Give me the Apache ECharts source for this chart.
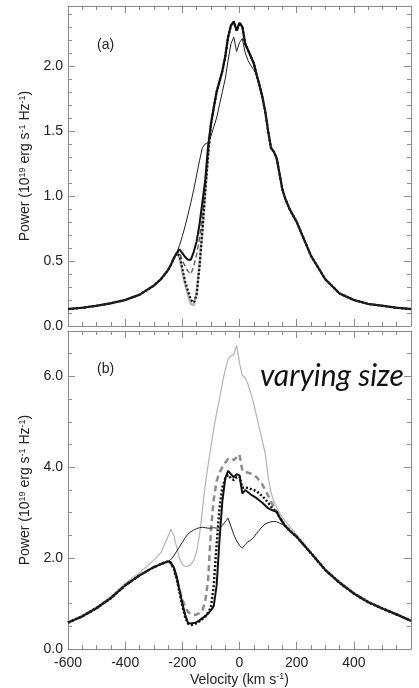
<!DOCTYPE html>
<html>
<head>
<meta charset="utf-8">
<script src="https://cdn.jsdelivr.net/npm/echarts@6/dist/echarts.min.js"></script>
<style>
html, body { margin: 0; padding: 0; background: #fff; }
#main { width: 419px; height: 688px; }
</style>
</head>
<body>
<div id="main"></div>
<script>
// velocity grid (km/s), shared by every curve
var vel = [-600, -550, -500, -450, -400, -350, -300, -275,
  -250, -240, -230, -220, -210, -200, -190, -180, -170, -160, -150, -140, -130, -120, -110, -100,
  -90, -80, -70, -60, -50, -40, -30, -20, -10, 0, 10, 20, 30, 40, 50,
  60, 70, 80, 90, 100, 110, 120, 130, 140, 150, 160,
  175, 200, 225, 250, 300, 350, 400, 450, 500, 550, 600];

// panel (a)
var aThin = [0.13, 0.14, 0.155, 0.175, 0.20, 0.24, 0.31, 0.36,
  0.43, 0.47, 0.51, 0.56, 0.62, 0.69, 0.77, 0.86, 0.95, 1.05, 1.16, 1.27, 1.37, 1.40, 1.41, 1.46,
  1.53, 1.60, 1.70, 1.80, 1.90, 2.04, 2.17, 2.22, 2.11, 2.18, 2.21, 2.10, 2.04, 2.00, 1.97,
  1.93, 1.85, 1.76, 1.65, 1.50, 1.37, 1.34, 1.29, 1.17, 1.05, 0.98,
  0.90, 0.80, 0.67, 0.54, 0.36, 0.25, 0.20, 0.17, 0.155, 0.14, 0.13];
var aThick = [0.13, 0.14, 0.155, 0.175, 0.20, 0.24, 0.31, 0.36,
  0.43, 0.47, 0.52, 0.56, 0.59, 0.56, 0.53, 0.51, 0.51, 0.57, 0.65, 0.78, 0.95, 1.12, 1.38, 1.55,
  1.68, 1.80, 1.88, 1.96, 2.07, 2.22, 2.31, 2.34, 2.27, 2.33, 2.30, 2.17, 2.12, 2.07, 2.02,
  1.93, 1.85, 1.76, 1.65, 1.50, 1.37, 1.34, 1.29, 1.17, 1.05, 0.98,
  0.90, 0.80, 0.67, 0.54, 0.36, 0.25, 0.20, 0.17, 0.155, 0.14, 0.13];
var aDash = [0.13, 0.14, 0.155, 0.175, 0.20, 0.24, 0.31, 0.36,
  0.43, 0.47, 0.52, 0.56, 0.57, 0.50, 0.46, 0.42, 0.40, 0.46, 0.55, 0.67, 0.85, 1.07, 1.34, 1.55,
  1.68, 1.80, 1.88, 1.96, 2.07, 2.22, 2.31, 2.34, 2.27, 2.33, 2.30, 2.17, 2.12, 2.07, 2.02,
  1.93, 1.85, 1.76, 1.65, 1.50, 1.37, 1.34, 1.29, 1.17, 1.05, 0.98,
  0.90, 0.80, 0.67, 0.54, 0.36, 0.25, 0.20, 0.17, 0.155, 0.14, 0.13];
var aDot = [0.13, 0.14, 0.155, 0.175, 0.20, 0.24, 0.31, 0.36,
  0.43, 0.47, 0.52, 0.56, 0.54, 0.44, 0.34, 0.27, 0.20, 0.18, 0.24, 0.45, 0.72, 1.02, 1.30, 1.55,
  1.68, 1.80, 1.88, 1.96, 2.07, 2.22, 2.31, 2.34, 2.27, 2.33, 2.30, 2.17, 2.12, 2.07, 2.02,
  1.93, 1.85, 1.76, 1.65, 1.50, 1.37, 1.34, 1.29, 1.17, 1.05, 0.98,
  0.90, 0.80, 0.67, 0.54, 0.36, 0.25, 0.20, 0.17, 0.155, 0.14, 0.13];
var aGray = [0.13, 0.14, 0.155, 0.175, 0.20, 0.24, 0.31, 0.36,
  0.43, 0.47, 0.52, 0.56, 0.53, 0.42, 0.32, 0.24, 0.17, 0.16, 0.25, 0.48, 0.75, 1.04, 1.32, 1.55,
  1.68, 1.80, 1.88, 1.96, 2.07, 2.22, 2.31, 2.34, 2.27, 2.33, 2.30, 2.17, 2.12, 2.07, 2.02,
  1.93, 1.85, 1.76, 1.65, 1.50, 1.37, 1.34, 1.29, 1.17, 1.05, 0.98,
  0.90, 0.80, 0.67, 0.54, 0.36, 0.25, 0.20, 0.17, 0.155, 0.14, 0.13];

// panel (b)
var bGray = [0.60, 0.74, 0.93, 1.16, 1.45, 1.68, 1.95, 2.12,
  2.48, 2.64, 2.50, 2.25, 2.00, 1.86, 1.82, 1.82, 1.86, 1.95, 2.15, 2.50, 3.05, 3.60, 4.05, 4.45,
  4.85, 5.20, 5.50, 5.85, 6.15, 6.38, 6.45, 6.48, 6.68, 6.30, 6.02, 5.97, 5.82, 5.62, 5.40,
  5.12, 4.84, 4.58, 4.30, 3.80, 3.45, 3.25, 3.12, 3.00, 2.90, 2.82,
  2.70, 2.52, 2.33, 2.14, 1.77, 1.49, 1.25, 1.06, 0.91, 0.78, 0.64];
var bThin = [0.58, 0.72, 0.90, 1.12, 1.40, 1.62, 1.80, 1.87,
  1.93, 1.97, 2.05, 2.15, 2.25, 2.35, 2.45, 2.53, 2.58, 2.62, 2.65, 2.67, 2.68, 2.67, 2.66, 2.66,
  2.67, 2.66, 2.67, 2.72, 2.80, 2.88, 2.70, 2.52, 2.38, 2.28, 2.22, 2.30, 2.36, 2.40, 2.46,
  2.55, 2.62, 2.70, 2.75, 2.78, 2.80, 2.81, 2.80, 2.77, 2.74, 2.68,
  2.61, 2.47, 2.29, 2.11, 1.74, 1.46, 1.22, 1.03, 0.89, 0.76, 0.62];
var bThick = [0.58, 0.72, 0.90, 1.12, 1.40, 1.62, 1.80, 1.87,
  1.93, 1.90, 1.80, 1.60, 1.30, 1.00, 0.75, 0.57, 0.56, 0.57, 0.59, 0.63, 0.68, 0.72, 0.78, 0.85,
  0.95, 1.40, 2.40, 3.25, 3.75, 3.92, 3.85, 3.78, 3.85, 3.82, 3.42, 3.50, 3.45, 3.40, 3.36,
  3.32, 3.27, 3.22, 3.16, 3.10, 3.07, 3.04, 3.02, 2.90, 2.80, 2.71,
  2.61, 2.47, 2.29, 2.11, 1.74, 1.46, 1.22, 1.03, 0.89, 0.76, 0.62];
var bDot = [0.58, 0.72, 0.90, 1.12, 1.40, 1.62, 1.80, 1.87,
  1.93, 1.90, 1.78, 1.55, 1.25, 0.95, 0.70, 0.56, 0.53, 0.54, 0.57, 0.61, 0.66, 0.72, 0.80, 0.92,
  1.40, 2.30, 3.10, 3.55, 3.75, 3.83, 3.76, 3.72, 3.78, 3.80, 3.55, 3.56, 3.54, 3.52, 3.50,
  3.47, 3.42, 3.36, 3.30, 3.22, 3.14, 3.07, 3.02, 2.90, 2.80, 2.71,
  2.61, 2.47, 2.29, 2.11, 1.74, 1.46, 1.22, 1.03, 0.89, 0.76, 0.62];
var bDash = [0.58, 0.72, 0.90, 1.12, 1.40, 1.62, 1.80, 1.87,
  1.93, 1.88, 1.75, 1.55, 1.30, 1.10, 0.92, 0.82, 0.76, 0.75, 0.76, 0.79, 0.84, 1.05, 1.50, 2.60,
  3.30, 3.70, 3.88, 4.00, 4.10, 4.18, 4.20, 4.16, 4.22, 4.28, 3.92, 3.90, 3.88, 3.86, 3.83,
  3.78, 3.70, 3.62, 3.50, 3.38, 3.25, 3.13, 3.02, 2.90, 2.80, 2.71,
  2.61, 2.47, 2.29, 2.11, 1.74, 1.46, 1.22, 1.03, 0.89, 0.76, 0.62];

var xTicks = [-600, -400, -200, 0, 200, 400];

var myChart = echarts.init(document.getElementById('main'));

var FONT = 'Liberation Sans';
var AXC = '#8a8a8a';

function xAx(grid, pos, labels) {
  return {
    type: 'value', gridIndex: grid, position: pos,
    min: -600, max: 600, interval: 200,
    axisLine: { show: true, onZero: false, lineStyle: { color: AXC, width: 1 } },
    axisTick: { show: true, inside: true, length: 7, lineStyle: { color: AXC } },
    minorTick: { show: true, splitNumber: 4, length: 4, lineStyle: { color: AXC } },
    splitLine: { show: false },
    axisLabel: {
      show: labels, margin: 7, color: '#222', fontFamily: FONT, fontSize: 14,
      formatter: function (v) { return xTicks.indexOf(v) >= 0 ? String(v) : ''; }
    },
    name: labels ? '{t|Velocity (km s}{s|-1}{t|)}' : '',
    nameLocation: 'middle', nameGap: 23,
    nameTextStyle: {
      rich: {
        t: { fontSize: 14, fontFamily: FONT, color: '#222', lineHeight: 16 },
        s: { fontSize: 9, fontFamily: FONT, color: '#222', verticalAlign: 'top', lineHeight: 9 }
      }
    }
  };
}

function yAx(grid, pos, max, step, split, labels) {
  return {
    type: 'value', gridIndex: grid, position: pos,
    min: 0, max: max, interval: step,
    axisLine: { show: true, onZero: false, lineStyle: { color: AXC, width: 1 } },
    axisTick: { show: true, inside: true, length: 7, lineStyle: { color: AXC } },
    minorTick: { show: true, splitNumber: split, length: 4, lineStyle: { color: AXC } },
    splitLine: { show: false },
    axisLabel: {
      show: labels, margin: 5, color: '#222', fontFamily: FONT, fontSize: 14,
      formatter: function (v) {
        var k = v / step;
        return Math.abs(k - Math.round(k)) < 1e-6 ? v.toFixed(1) : '';
      }
    },
    name: labels ? '{t|Power (10}{s|19}{t| erg s}{s|-1}{t| Hz}{s|-1}{t|)}' : '',
    nameLocation: 'middle', nameGap: 31,
    nameTextStyle: {
      rich: {
        t: { fontSize: 14, fontFamily: FONT, color: '#222', lineHeight: 16 },
        s: { fontSize: 9, fontFamily: FONT, color: '#222', verticalAlign: 'top', lineHeight: 9 }
      }
    }
  };
}

function curve(vals, axis, color, width, dash, z) {
  return {
    type: 'line', xAxisIndex: axis, yAxisIndex: axis,
    data: vel.map(function (v, i) { return [v, vals[i]]; }),
    showSymbol: false, symbol: 'none', z: z,
    lineStyle: { color: color, width: width, type: dash },
    emphasis: { disabled: true }
  };
}

var option = {
  animation: false,
  backgroundColor: '#fff',
  grid: [
    { left: 68, right: 8, top: 6, height: 320 },
    { left: 68, right: 8, top: 331, height: 318 }
  ],
  xAxis: [
    xAx(0, 'bottom', false), xAx(0, 'top', false),
    xAx(1, 'bottom', true), xAx(1, 'top', false)
  ],
  yAxis: [
    yAx(0, 'left', 2.46, 0.5, 5, true), yAx(0, 'right', 2.46, 0.5, 5, false),
    yAx(1, 'left', 7.0, 2, 4, true), yAx(1, 'right', 7.0, 2, 4, false)
  ],
  series: [
    // (a)
    curve(aGray, 0, '#b4b4b4', 2.5, 'solid', 1),
    curve(aDash, 0, '#555', 1.3, [5, 3], 2),
    curve(aDot, 0, '#111', 2.2, [2, 2], 3),
    curve(aThick, 0, '#111', 2, 'solid', 4),
    curve(aThin, 0, '#222', 1, 'solid', 5),
    // (b)
    curve(bGray, 2, '#b4b4b4', 1.2, 'solid', 1),
    curve(bDash, 2, '#8c8c8c', 2.5, [6, 4], 2),
    curve(bDot, 2, '#111', 2.5, [2, 2], 3),
    curve(bThick, 2, '#111', 2, 'solid', 4),
    curve(bThin, 2, '#222', 1, 'solid', 5)
  ],
  graphic: [
    { type: 'text', left: 97, top: 38, style: { text: '(a)', font: '14px "Liberation Sans"', fill: '#222' } },
    { type: 'text', left: 97, top: 362, style: { text: '(b)', font: '14px "Liberation Sans"', fill: '#222' } },
    { type: 'text', left: 260, top: 361, style: { text: 'varying size', font: 'italic 30px Lato', fill: '#111' } }
  ]
};

myChart.setOption(option);
</script>
</body>
</html>
